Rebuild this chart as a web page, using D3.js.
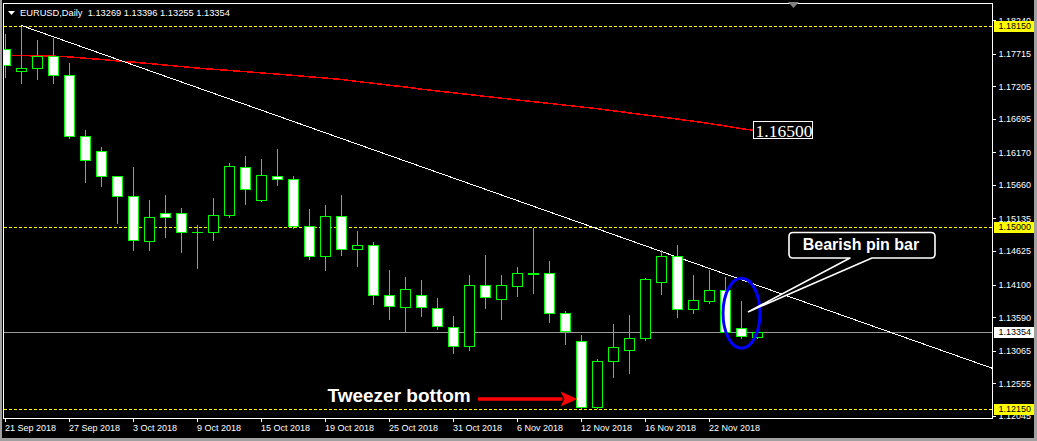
<!DOCTYPE html>
<html>
<head>
<meta charset="utf-8">
<script src="https://cdn.jsdelivr.net/npm/d3@7"></script>
<style>
  body { margin: 0; background: #000; }
  svg { display: block; font-family: "Liberation Sans", Arial, sans-serif; }
</style>
</head>
<body>
<div id="root"></div>
<script>
const width = 1037;
const height = 441;

// one entry per daily bar
const dates = [
  "21 Sep 2018", "24 Sep 2018", "25 Sep 2018", "26 Sep 2018", "27 Sep 2018", "28 Sep 2018",
  "1 Oct 2018", "2 Oct 2018", "3 Oct 2018", "4 Oct 2018", "5 Oct 2018",
  "8 Oct 2018", "9 Oct 2018", "10 Oct 2018", "11 Oct 2018", "12 Oct 2018",
  "15 Oct 2018", "16 Oct 2018", "17 Oct 2018", "18 Oct 2018", "19 Oct 2018",
  "22 Oct 2018", "23 Oct 2018", "24 Oct 2018", "25 Oct 2018", "26 Oct 2018",
  "29 Oct 2018", "30 Oct 2018", "31 Oct 2018", "1 Nov 2018", "2 Nov 2018",
  "5 Nov 2018", "6 Nov 2018", "7 Nov 2018", "8 Nov 2018", "9 Nov 2018",
  "12 Nov 2018", "13 Nov 2018", "14 Nov 2018", "15 Nov 2018", "16 Nov 2018",
  "19 Nov 2018", "20 Nov 2018", "21 Nov 2018", "22 Nov 2018", "23 Nov 2018",
  "26 Nov 2018", "27 Nov 2018"
];

const open = [
  1.17778, 1.17442, 1.17480, 1.17673, 1.17375, 1.16415, 1.16180, 1.15788, 1.15475, 1.14770,
  1.15209, 1.15209, 1.14911, 1.14911, 1.15177, 1.15934, 1.15412, 1.15788, 1.15741, 1.15005,
  1.14535, 1.15162, 1.14645, 1.14707, 1.13924, 1.13736, 1.13924, 1.13720, 1.13432, 1.13122,
  1.14081, 1.13871, 1.14065, 1.14269, 1.14269, 1.13642, 1.13204, 1.12179, 1.12890, 1.13063,
  1.13251, 1.14128, 1.14535, 1.13705, 1.13830, 1.14002, 1.13407, 1.13269
];
const high = [
  1.18028, 1.18150, 1.17939, 1.17975, 1.17579, 1.16529, 1.16263, 1.15809, 1.15954, 1.15433,
  1.15511, 1.15303, 1.15041, 1.15469, 1.16012, 1.16122, 1.16070, 1.16232, 1.15809, 1.15292,
  1.15354, 1.15511, 1.14947, 1.14770, 1.14336, 1.14227, 1.14175, 1.13893, 1.13611, 1.14258,
  1.14571, 1.14258, 1.14383, 1.14999, 1.14477, 1.13694, 1.13313, 1.12947, 1.13486, 1.13631,
  1.14211, 1.14645, 1.14728, 1.14258, 1.14336, 1.14227, 1.13851, 1.13396
];
const low = [
  1.17339, 1.17245, 1.17317, 1.17254, 1.16393, 1.15704, 1.15641, 1.15052, 1.14634, 1.14634,
  1.14837, 1.14607, 1.14352, 1.14790, 1.15150, 1.15350, 1.15400, 1.15657, 1.14974, 1.14498,
  1.14325, 1.14555, 1.14388, 1.13793, 1.13558, 1.13360, 1.13605, 1.13401, 1.13025, 1.13067,
  1.13730, 1.13558, 1.13918, 1.13956, 1.13506, 1.13161, 1.12160, 1.12165, 1.12640, 1.12707,
  1.13224, 1.13937, 1.13589, 1.13652, 1.13799, 1.13334, 1.13251, 1.13255
];
const close = [
  1.17527, 1.17480, 1.17673, 1.17370, 1.16415, 1.16039, 1.15788, 1.15475, 1.14786, 1.15146,
  1.15146, 1.14911, 1.14915, 1.15177, 1.15950, 1.15585, 1.15804, 1.15741, 1.15010, 1.14535,
  1.15162, 1.14645, 1.14707, 1.13924, 1.13752, 1.14018, 1.13736, 1.13438, 1.13122, 1.14081,
  1.13893, 1.14081, 1.14269, 1.14264, 1.13642, 1.13360, 1.12179, 1.12890, 1.13110, 1.13251,
  1.14175, 1.14535, 1.13705, 1.13846, 1.14002, 1.13345, 1.13282, 1.13354
];

// red moving average
const ma = [
  1.17684, 1.17679, 1.17674, 1.17670, 1.17659, 1.17638, 1.17618, 1.17596, 1.17576, 1.17554,
  1.17530, 1.17507, 1.17483, 1.17464, 1.17446, 1.17427, 1.17408, 1.17389, 1.17369, 1.17347,
  1.17327, 1.17305, 1.17273, 1.17245, 1.17215, 1.17187, 1.17153, 1.17124, 1.17096, 1.17068,
  1.17040, 1.17012, 1.16984, 1.16957, 1.16930, 1.16902, 1.16874, 1.16847, 1.16814, 1.16781,
  1.16749, 1.16717, 1.16684, 1.16651, 1.16615, 1.16576, 1.16535, 1.16500
];

const priceTicks = [1.18240, 1.17715, 1.17205, 1.16695, 1.16170, 1.15660, 1.15135,
  1.14625, 1.14100, 1.13590, 1.13065, 1.12555, 1.12045];
const timeTicks = ["21 Sep 2018", "27 Sep 2018", "3 Oct 2018", "9 Oct 2018", "15 Oct 2018",
  "19 Oct 2018", "25 Oct 2018", "31 Oct 2018", "6 Nov 2018", "12 Nov 2018",
  "16 Nov 2018", "22 Nov 2018"];
const levels = [1.18150, 1.15000, 1.12150];
const lastPrice = 1.13354;
const trendIdx = [1, 47];
const trendPrice = [1.18150, 1.14079];
const header = "EURUSD,Daily  1.13269 1.13396 1.13255 1.13354";

const plotLeft = 4, plotRight = 992, plotTop = 4, plotBottom = 418;

let svg = d3.select("#root").append("svg")
  .attr("width", width)
  .attr("height", height);

svg.append("rect").attr("width", width).attr("height", height).attr("fill", "#000");
// window edges
svg.append("rect").attr("x", 0).attr("y", 0).attr("width", 2).attr("height", height).attr("fill", "#a0a0a0");
svg.append("rect").attr("x", 1034).attr("y", 0).attr("width", 3).attr("height", height).attr("fill", "#a0a0a0");
svg.append("rect").attr("x", 0).attr("y", 438).attr("width", width).attr("height", 3).attr("fill", "#a0a0a0");

let x = d3.scaleLinear().domain([0, 47]).range([5.5, 757.5]);
let y = d3.scaleLinear().domain([1.12002, 1.18487]).range([plotBottom, plotTop]);
const py = (p) => Math.round(y(p)) + 0.5;

svg.append("clipPath").attr("id", "plot")
  .append("rect").attr("x", plotLeft).attr("y", plotTop)
  .attr("width", plotRight - plotLeft).attr("height", plotBottom - plotTop);

let plot = svg.append("g").attr("clip-path", "url(#plot)");

// yellow dashed levels
plot.selectAll(".level").data(levels).enter().append("line")
  .attr("class", "level")
  .attr("x1", plotLeft).attr("x2", plotRight)
  .attr("y1", py).attr("y2", py)
  .attr("stroke", "#ffff00")
  .attr("stroke-dasharray", "3,2")
  .attr("shape-rendering", "crispEdges");

// bid line
plot.append("line")
  .attr("x1", plotLeft).attr("x2", plotRight)
  .attr("y1", py(lastPrice)).attr("y2", py(lastPrice))
  .attr("stroke", "#9a9a9a")
  .attr("shape-rendering", "crispEdges");

// moving average
plot.append("path")
  .datum(ma)
  .attr("fill", "none")
  .attr("stroke", "#ff0000")
  .attr("stroke-width", 1.5)
  .attr("shape-rendering", "crispEdges")
  .attr("d", d3.line().x((d, i) => x(i)).y((d) => y(d)));

// trend line, extended to the right edge
let tx0 = x(trendIdx[0]), ty0 = y(trendPrice[0]);
let slope = (y(trendPrice[1]) - ty0) / (x(trendIdx[1]) - tx0);
plot.append("line")
  .attr("x1", tx0).attr("y1", ty0)
  .attr("x2", plotRight).attr("y2", ty0 + (plotRight - tx0) * slope)
  .attr("stroke", "#ffffff")
  .attr("shape-rendering", "crispEdges");

// candles
let candles = plot.selectAll(".candle").data(dates).enter().append("g").attr("class", "candle");

candles.append("line")
  .attr("x1", (d, i) => x(i)).attr("x2", (d, i) => x(i))
  .attr("y1", (d, i) => py(high[i])).attr("y2", (d, i) => py(low[i]))
  .attr("stroke", "#00ff00")
  .attr("shape-rendering", "crispEdges");

candles.append("rect")
  .attr("x", (d, i) => x(i) - 5)
  .attr("y", (d, i) => py(Math.max(open[i], close[i])))
  .attr("width", 10)
  .attr("height", (d, i) => Math.max(0.01, py(Math.min(open[i], close[i])) - py(Math.max(open[i], close[i]))))
  .attr("fill", (d, i) => (close[i] >= open[i] ? "#000000" : "#ffffff"))
  .attr("stroke", "#00ff00")
  .attr("shape-rendering", "crispEdges");

// plot frame
svg.append("rect")
  .attr("x", plotLeft - 0.5).attr("y", plotTop - 0.5)
  .attr("width", plotRight - plotLeft + 1).attr("height", plotBottom - plotTop + 1)
  .attr("fill", "none")
  .attr("stroke", "#ffffff")
  .attr("shape-rendering", "crispEdges");

// price axis
let yAxis = d3.axisRight(y).tickValues(priceTicks).tickSize(3).tickPadding(3)
  .tickFormat((d) => d.toFixed(5));
let yg = svg.append("g")
  .attr("transform", "translate(" + (plotRight + 0.5) + ",0.5)")
  .call(yAxis);
yg.select(".domain").remove();
yg.selectAll("line").attr("stroke", "#ffffff").attr("shape-rendering", "crispEdges");
yg.selectAll("text").attr("fill", "#ffffff").style("font-size", "9px");

// highlighted price labels
let tags = levels.map((p) => ({ p: p, bg: "#ffff00" })).concat([{ p: lastPrice, bg: "#ffffff" }]);
let tag = svg.selectAll(".tag").data(tags).enter().append("g").attr("class", "tag");
tag.append("rect")
  .attr("x", plotRight + 2).attr("y", (d) => Math.round(y(d.p)) - 5)
  .attr("width", 40).attr("height", 11)
  .attr("fill", (d) => d.bg);
tag.append("text")
  .attr("x", plotRight + 6.5).attr("y", (d) => y(d.p) + 3.5)
  .attr("fill", "#000")
  .style("font-size", "9px")
  .text((d) => d.p.toFixed(5));

// time axis
let xAxis = d3.axisBottom(x)
  .tickValues(timeTicks.map((t) => dates.indexOf(t)))
  .tickSize(3).tickPadding(3)
  .tickFormat((d) => dates[d]);
let xg = svg.append("g")
  .attr("transform", "translate(-0.5," + (plotBottom + 0.5) + ")")
  .call(xAxis);
xg.select(".domain").remove();
xg.selectAll("line").attr("stroke", "#ffffff").attr("shape-rendering", "crispEdges");
xg.selectAll("text").attr("fill", "#ffffff").attr("text-anchor", "start").attr("dx", -0.5)
  .style("font-size", "9px");

// header
svg.append("path").attr("d", "M8,11L15,11L11.5,15Z").attr("fill", "#ffffff");
svg.append("text")
  .attr("x", 20).attr("y", 16)
  .attr("fill", "#ffffff")
  .attr("xml:space", "preserve")
  .style("font-size", "9.3px")
  .style("white-space", "pre")
  .text(header);
svg.append("path").attr("d", "M788,2L799,2L793.5,8Z").attr("fill", "#808080");

// MA price label
svg.append("rect")
  .attr("x", 753).attr("y", Math.round(y(ma[47])) - 9.5)
  .attr("width", 59).attr("height", 17)
  .attr("fill", "#000").attr("stroke", "#ffffff")
  .attr("shape-rendering", "crispEdges");
svg.append("text")
  .attr("x", 755.5).attr("y", y(ma[47]) + 6)
  .attr("fill", "#ffffff")
  .style("font-family", "'Liberation Serif', 'Times New Roman', serif")
  .style("font-size", "17.5px")
  .text(ma[47].toFixed(5));

// pin bar highlight
svg.append("ellipse")
  .attr("cx", x(46)).attr("cy", y(1.13642))
  .attr("rx", 18.5).attr("ry", 35)
  .attr("fill", "none")
  .attr("stroke", "#0000ff")
  .attr("stroke-width", 3);

// callout
let tipX = x(46) + 7, tipY = y(1.13667);
svg.append("path")
  .attr("d", "M793,232.5 H931 Q935,232.5 935,236.5 V254 Q935,258 931,258 H872 L" + tipX + "," + tipY +
    " L850,258 H793 Q789,258 789,254 V236.5 Q789,232.5 793,232.5 Z")
  .attr("fill", "#000")
  .attr("stroke", "#ffffff")
  .attr("stroke-width", 1.6)
  .attr("stroke-linejoin", "round");
svg.append("text")
  .attr("x", 861).attr("y", 250)
  .attr("text-anchor", "middle")
  .attr("fill", "#ffffff")
  .style("font-weight", "bold")
  .style("font-size", "16px")
  .text("Bearish pin bar");

// tweezer bottom note
let ay = y(low[36]) - 9;
svg.append("text")
  .attr("x", 327.5).attr("y", 402.3)
  .attr("fill", "#ffffff")
  .style("font-weight", "bold")
  .style("font-size", "19px")
  .text("Tweezer bottom");
svg.append("line")
  .attr("x1", 478).attr("x2", x(36) - 19)
  .attr("y1", ay).attr("y2", ay)
  .attr("stroke", "#ff0000")
  .attr("stroke-width", 3.5);
svg.append("path")
  .attr("d", "M" + (x(36) - 21) + "," + (ay - 7.5) + " L" + (x(36) - 4) + "," + ay +
    " L" + (x(36) - 21) + "," + (ay + 7.5) + " L" + (x(36) - 17) + "," + ay + " Z")
  .attr("fill", "#ff0000");
</script>
</body>
</html>
